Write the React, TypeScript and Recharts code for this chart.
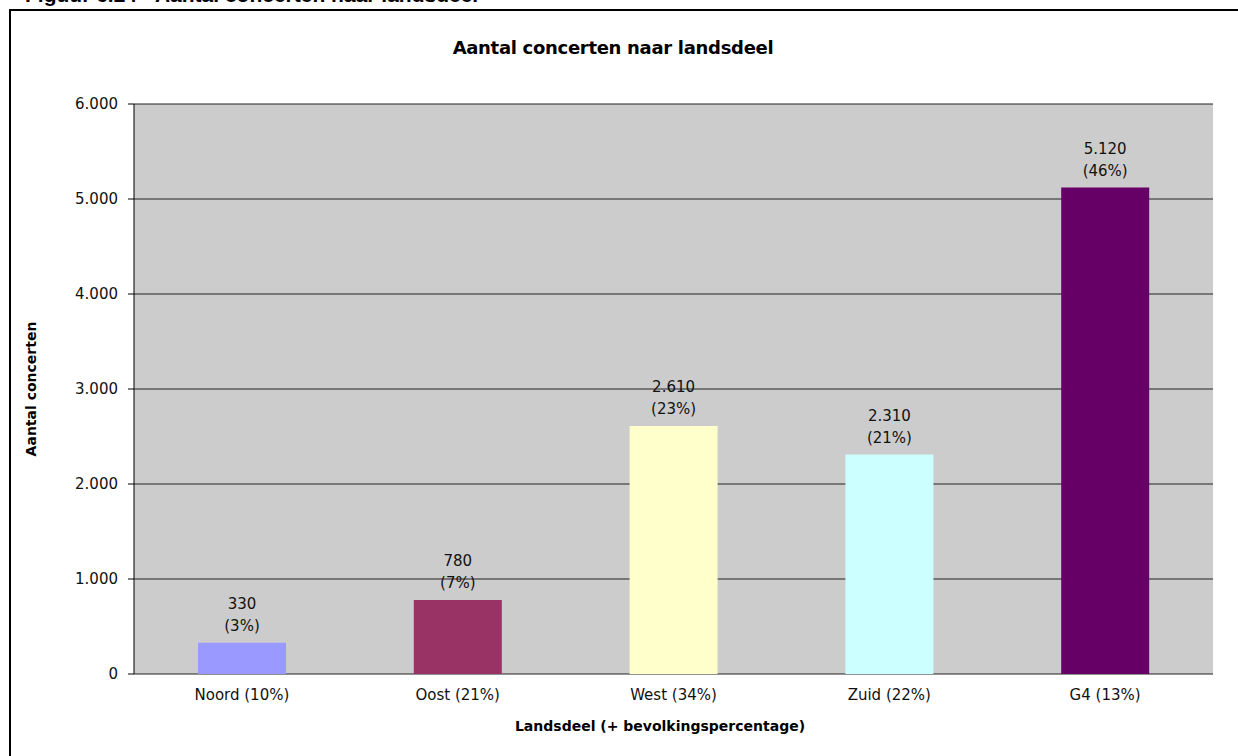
import React from 'react';
import { BarChart, Bar, XAxis, YAxis, CartesianGrid, Cell, LabelList } from 'recharts';

const regions = ['Noord (10%)', 'Oost (21%)', 'West (34%)', 'Zuid (22%)', 'G4 (13%)'];
const concerts = [330, 780, 2610, 2310, 5120];
const shares = ['(3%)', '(7%)', '(23%)', '(21%)', '(46%)'];
const barColors = ['#9999ff', '#993366', '#ffffcc', '#ccffff', '#660066'];
const yTicks = [0, 1000, 2000, 3000, 4000, 5000, 6000];
const edgeTicks = [0, 1, 2, 3, 4, 5];

const data = regions.map((r, i) => ({ region: r, value: concerts[i], pos: i + 0.5 }));

const font = '"DejaVu Sans", Verdana, sans-serif';

const fmt = (v: number) => (v === 0 ? '0' : v.toLocaleString('de-DE'));

function TwoLineLabel(props: any) {
  const { x, y, width, index, value } = props;
  const cx = x + width / 2;
  return (
    <g>
      <text x={cx} y={y - 34} textAnchor="middle" fontSize={15} fontFamily={font} fill="#111">
        {fmt(value)}
      </text>
      <text x={cx} y={y - 12} textAnchor="middle" fontSize={15} fontFamily={font} fill="#111">
        {shares[index]}
      </text>
    </g>
  );
}

export default function App() {
  return (
    <div style={{ position: 'absolute', left: 0, top: 0, width: 1238, height: 756, overflow: 'hidden', background: '#fff', fontFamily: font }}>
      <div style={{ position: 'absolute', left: 25, top: -17, fontFamily: '"Liberation Sans", Arial, sans-serif', fontWeight: 'bold', fontSize: 21, whiteSpace: 'nowrap' }}>
        Figuur 6.24 - Aantal concerten naar landsdeel
      </div>
      <div style={{ position: 'absolute', left: 9, top: 9, width: 1229, height: 2, background: '#000' }} />
      <div style={{ position: 'absolute', left: 9, top: 9, width: 2, height: 747, background: '#000' }} />
      <div style={{ position: 'absolute', left: 0, width: 1226, top: 37, textAlign: 'center', fontWeight: 'bold', fontSize: 18, letterSpacing: -0.3 }}>
        Aantal concerten naar landsdeel
      </div>
      <div style={{ position: 'absolute', left: 0, width: 1320, top: 718, textAlign: 'center', fontWeight: 'bold', fontSize: 14 }}>
        Landsdeel (+ bevolkingspercentage)
      </div>
      <div style={{ position: 'absolute', left: 0, top: 0 }}>
        <BarChart width={1238} height={756} data={data} margin={{ top: 104, right: 25, bottom: 52, left: 74 }}>
          <CartesianGrid yAxisId="l" xAxisId="cat" vertical={false} fill="#cccccc" stroke="#222" strokeOpacity={1} />
          <XAxis
            xAxisId="cat"
            dataKey="region"
            height={30}
            axisLine={false}
            tickLine={false}
            tick={{ fontSize: 15, fontFamily: font, fill: '#111' }}
            dy={7}
          />
          <XAxis
            xAxisId="edge"
            type="number"
            dataKey="pos"
            domain={[0, 5]}
            ticks={edgeTicks}
            height={0}
            tick={false}
            tickSize={6}
            axisLine={{ stroke: '#000', strokeWidth: 1.5 }}
            tickLine={{ stroke: '#000' }}
          />
          <YAxis
            yAxisId="l"
            width={60}
            domain={[0, 6000]}
            ticks={yTicks}
            tickFormatter={fmt}
            tickSize={6}
            interval={0}
            axisLine={{ stroke: '#000' }}
            tickLine={{ stroke: '#000' }}
            tick={{ fontSize: 15, fontFamily: font, fill: '#111', dx: -8 }}
            label={{ value: 'Aantal concerten', angle: -90, position: 'left', offset: 43, style: { fontSize: 14, fontWeight: 'bold', fontFamily: font, fill: '#000', textAnchor: 'middle' } }}
          />
          <YAxis yAxisId="r" orientation="right" width={0} domain={[0, 6000]} tick={false} tickLine={false} axisLine={{ stroke: '#808080', strokeWidth: 1.5 }} />
          <Bar dataKey="value" xAxisId="cat" yAxisId="l" barSize={88} isAnimationActive={false}>
            {data.map((d, i) => (
              <Cell key={d.region} fill={barColors[i]} />
            ))}
            <LabelList dataKey="value" content={TwoLineLabel} />
          </Bar>
        </BarChart>
      </div>
    </div>
  );
}
